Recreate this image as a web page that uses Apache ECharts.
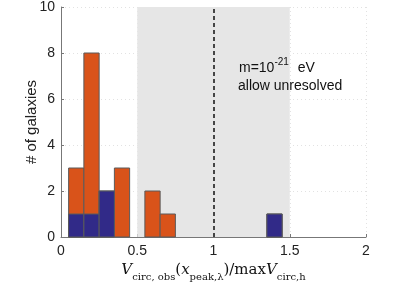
<!DOCTYPE html>
<html><head><meta charset="utf-8">
<script src="https://cdn.jsdelivr.net/npm/echarts@6/dist/echarts.min.js"></script>
<style>html,body{margin:0;padding:0;background:#fff}#c{width:415px;height:287px}</style>
</head><body><div id="c"></div>
<script>
// bin centres and counts
var binCenters = [0.1, 0.2, 0.3, 0.4, 0.6, 0.7, 1.4];
var allCounts = [3, 8, 2, 3, 2, 1, 1];
var subsetCounts = [1, 1, 2, 0, 0, 0, 1];
var binWidth = 0.1;
var shadeRange = [0.5, 1.5];
var refLine = 1;
var xTicks = [0, 0.5, 1, 1.5, 2];
var yTicks = [0, 2, 4, 6, 8, 10];

function toData(counts) {
  var out = [];
  for (var i = 0; i < binCenters.length; i++) if (counts[i] > 0) out.push([binCenters[i], counts[i]]);
  return out;
}
function makeRender(color) {
  return function (params, api) {
    var c = api.value(0), h = api.value(1);
    var p0 = api.coord([c - binWidth / 2, 0]);
    var p1 = api.coord([c + binWidth / 2, h]);
    return {
      type: 'rect',
      shape: { x: p0[0], y: p1[1], width: p1[0] - p0[0], height: p0[1] - p1[1] },
      style: { fill: color, stroke: '#5a5a5a', lineWidth: 1 }
    };
  };
}
var font = 'Liberation Sans, Arial, Helvetica, sans-serif';
var chart = echarts.init(document.getElementById('c'), null, { renderer: 'canvas' });
chart.setOption({
  animation: false,
  grid: { left: 61, right: 49, top: 6.5, bottom: 48.5, containLabel: false },
  xAxis: {
    type: 'value', min: xTicks[0], max: xTicks[xTicks.length - 1], interval: 0.5,
    axisLine: { show: true, lineStyle: { color: '#777', width: 1 } },
    axisTick: { show: true, inside: true, length: 3, lineStyle: { color: '#777' } },
    axisLabel: { color: '#222', fontSize: 14, fontFamily: font, margin: 7 },
    splitLine: { show: true, lineStyle: { color: '#e2e2e2', type: [1, 3] } },
    name: '{v|V}{s|circ, obs}{n|(}{v|x}{s|peak,λ}{n|)/max}{v|V}{s|circ,h}',
    nameLocation: 'middle', nameGap: 26, nameMoveOverlap: false,
    nameTextStyle: {
      rich: {
        v: { fontFamily: 'DejaVu Serif, Liberation Serif, serif', fontStyle: 'italic', fontSize: 15, color: '#111', verticalAlign: 'bottom' },
        n: { fontFamily: 'DejaVu Serif, Liberation Serif, serif', fontSize: 15, color: '#111', verticalAlign: 'bottom' },
        s: { fontFamily: 'DejaVu Serif, Liberation Serif, serif', fontSize: 10, color: '#111', verticalAlign: 'bottom', padding: [0, 0, -4, 0] }
      }
    }
  },
  yAxis: {
    type: 'value', min: 0, max: 10, interval: 2,
    axisLine: { show: true, lineStyle: { color: '#777', width: 1 } },
    axisTick: { show: true, inside: true, length: 3, lineStyle: { color: '#777' } },
    axisLabel: { color: '#222', fontSize: 14, fontFamily: font, margin: 6 },
    splitLine: { show: true, lineStyle: { color: '#e2e2e2', type: [1, 3] } },
    name: '# of galaxies', nameLocation: 'middle', nameGap: 22, nameMoveOverlap: false,
    nameTextStyle: { color: '#222', fontSize: 15, fontFamily: font }
  },
  series: [
    {
      type: 'custom', renderItem: makeRender('#d9531a'), data: toData(allCounts), z: 3,
      markArea: {
        silent: true, itemStyle: { color: '#e6e6e6' },
        data: [[{ xAxis: shadeRange[0] }, { xAxis: shadeRange[1] }]]
      },
      markLine: {
        silent: true, symbol: 'none', label: { show: false },
        lineStyle: { color: '#111', type: [4, 3], width: 1.5 },
        data: [{ xAxis: refLine }]
      }
    },
    { type: 'custom', renderItem: makeRender('#312a88'), data: toData(subsetCounts), z: 4 }
  ],
  graphic: [
    {
      type: 'text', left: 239, top: 57, z: 10,
      style: {
        text: '{a|m=10}{b|-21}{a|  eV}', fill: '#111',
        rich: {
          a: { fontFamily: font, fontSize: 14, verticalAlign: 'bottom' },
          b: { fontFamily: font, fontSize: 10, verticalAlign: 'top', padding: [0, 1, 8, 0] }
        }
      }
    },
    {
      type: 'text', left: 238, top: 79, z: 10,
      style: { text: 'allow unresolved', fill: '#111', fontFamily: font, fontSize: 14 }
    }
  ]
});
</script></body></html>
